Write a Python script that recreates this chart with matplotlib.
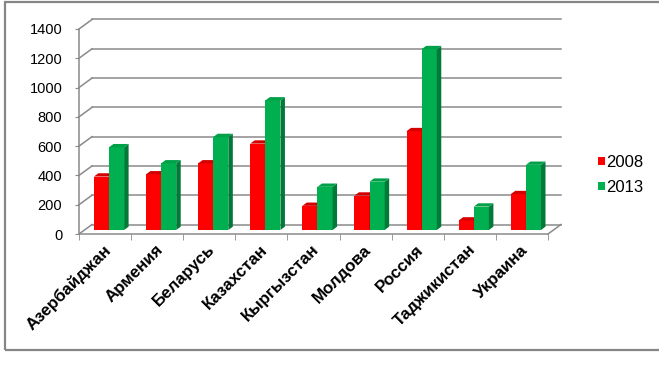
import matplotlib.pyplot as plt
from matplotlib.patches import Polygon, Rectangle
from matplotlib.lines import Line2D

plt.rcParams['font.family'] = ['Liberation Sans', 'DejaVu Sans']

# data
countries = ['Азербайджан', 'Армения', 'Беларусь', 'Казахстан', 'Кыргызстан',
             'Молдова', 'Россия', 'Таджикистан', 'Украина']
v2008 = [365, 380, 455, 590, 165, 235, 675, 65, 245]
v2013 = [565, 455, 635, 885, 295, 330, 1235, 160, 445]
years = ['2008', '2013']
yticks = [0, 200, 400, 600, 800, 1000, 1200, 1400]

# colours: front, side, top
red = ('#ff0000', '#a80000', '#d40000')
green = ('#00b050', '#007a38', '#00a048')
grid_col = '#8a8a8a'

W, H = 659, 367
# front plane of the plot in pixels
L, R, B, T = 79, 548, 234, 29
n = len(countries)
cat_px = (R - L) / n
val_px = (B - T) / 1400

fig = plt.figure(figsize=(W / 100, H / 100), dpi=100)
ax = fig.add_axes([L / W, 1 - B / H, (R - L) / W, (B - T) / H])
ax.set_xlim(-0.5, n - 0.5)
ax.set_ylim(0, 1400)
ax.patch.set_alpha(0)

# pixel offsets -> data units
def off(px_x, px_y):
    return px_x / cat_px, px_y / val_px

DX, DY = off(13, 9.5)      # front -> back wall
BX, BY = off(5.5, 4)       # front -> bar front face
SX, SY = off(4.5, 3.3)     # bar depth

# walls: back gridlines and left wall diagonals
for v in yticks:
    ax.add_line(Line2D([-0.5 + DX, n - 0.5 + DX], [v + DY, v + DY],
                       color=grid_col, lw=1.1, clip_on=False, zorder=1))
    ax.add_line(Line2D([-0.5, -0.5 + DX], [v, v + DY],
                       color=grid_col, lw=1.1, clip_on=False, zorder=1))
# floor right edge
ax.add_line(Line2D([n - 0.5, n - 0.5 + DX], [0, DY],
                   color=grid_col, lw=1.1, clip_on=False, zorder=1))


def bar3d(x0, w, h, cols, z):
    x0 = x0 + BX
    y0 = BY
    ax.add_patch(Rectangle((x0, y0), w, h, facecolor=cols[0], edgecolor='none',
                           clip_on=False, zorder=z))
    side = [(x0 + w, y0), (x0 + w + SX, y0 + SY), (x0 + w + SX, y0 + h + SY), (x0 + w, y0 + h)]
    ax.add_patch(Polygon(side, facecolor=cols[1], edgecolor='none', clip_on=False, zorder=z))
    top = [(x0, y0 + h), (x0 + w, y0 + h), (x0 + w + SX, y0 + h + SY), (x0 + SX, y0 + h + SY)]
    ax.add_patch(Polygon(top, facecolor=cols[2], edgecolor='none', clip_on=False, zorder=z))


bw = 0.29
for i in range(n):
    bar3d(i - bw - 0.03, bw, v2008[i], red, 3 + 2 * i)
    bar3d(i - 0.03, bw, v2013[i], green, 4 + 2 * i)

# axes
for s in ['top', 'right']:
    ax.spines[s].set_visible(False)
for s in ['left', 'bottom']:
    ax.spines[s].set_color(grid_col)
    ax.spines[s].set_linewidth(1.1)
ax.set_yticks(yticks)
ax.set_yticklabels([str(v) for v in yticks], fontsize=10.5)
ax.tick_params(axis='y', direction='out', length=3, color=grid_col, pad=9)
ax.set_xticks(range(n))
ax.set_xticklabels([])
ax.tick_params(axis='x', which='major', length=0)
ax.set_xticks([i - 0.5 for i in range(n + 1)], minor=True)
ax.tick_params(axis='x', which='minor', direction='out', length=4, color=grid_col)

for i, c in enumerate(countries):
    ax.annotate(c, xy=(i, 0), xycoords='data', xytext=(-2, -8), textcoords='offset pixels',
                rotation=45, rotation_mode='anchor', ha='right', va='top',
                fontsize=12.2, fontweight='bold', annotation_clip=False)

# legend
handles = [Rectangle((0, 0), 1, 1, facecolor=red[0]), Rectangle((0, 0), 1, 1, facecolor=green[0])]
fig.legend(handles, years, loc='center left', bbox_to_anchor=(583 / W, 1 - 175 / H),
           frameon=False, fontsize=12, handlelength=0.4, handleheight=0.4,
           handletextpad=0.1, labelspacing=0.6)

# outer frame
fig.patches.append(Rectangle((5 / W, 1 - 350 / H), 1, 348 / H, transform=fig.transFigure,
                             facecolor='none', edgecolor='#868686', lw=1.6))

fig.savefig('out.png', dpi=100)
